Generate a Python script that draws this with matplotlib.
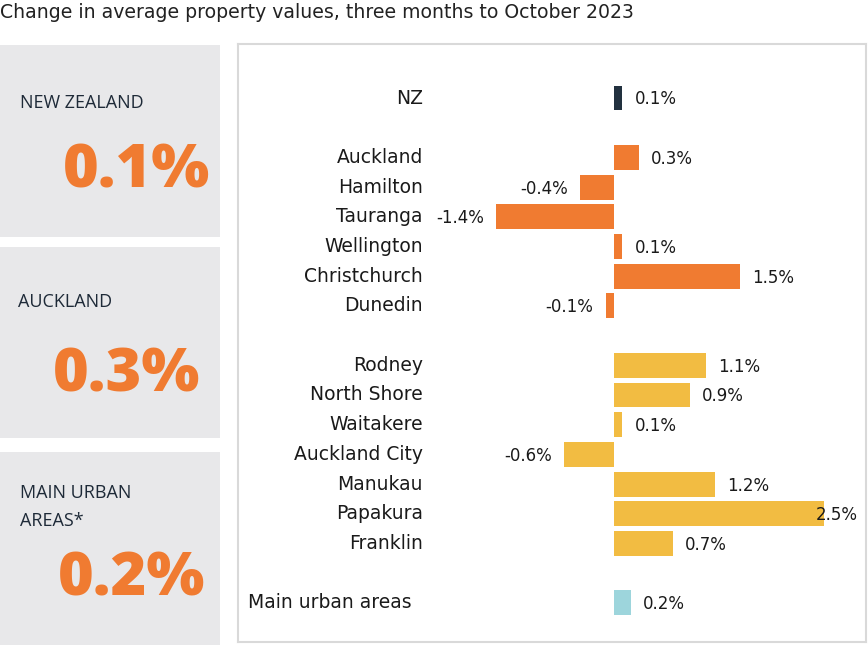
import matplotlib
matplotlib.use("Agg")
import matplotlib.pyplot as plt
from matplotlib.patches import Rectangle

plt.rcParams['font.family'] = ['DejaVu Sans']

# ---- data ----
categories = ["NZ", "", "Auckland", "Hamilton", "Tauranga", "Wellington", "Christchurch", "Dunedin",
              "", "Rodney", "North Shore", "Waitakere", "Auckland City", "Manukau", "Papakura", "Franklin",
              "", "Main urban areas"]
values = [0.1, None, 0.3, -0.4, -1.4, 0.1, 1.5, -0.1,
          None, 1.1, 0.9, 0.1, -0.6, 1.2, 2.5, 0.7,
          None, 0.2]
groups = ["nz", None, "city", "city", "city", "city", "city", "city",
          None, "akl", "akl", "akl", "akl", "akl", "akl", "akl",
          None, "urban"]
value_labels = ["0.1%", "", "0.3%", "-0.4%", "-1.4%", "0.1%", "1.5%", "-0.1%",
                "", "1.1%", "0.9%", "0.1%", "-0.6%", "1.2%", "2.5%", "0.7%",
                "", "0.2%"]
panel_titles = ["NEW ZEALAND", "AUCKLAND", "MAIN URBAN\nAREAS*"]
panel_values = ["0.1%", "0.3%", "0.2%"]
title = "Change in average property values, three months to October 2023"

colors = {"nz": "#22313F", "city": "#F07B31", "akl": "#F2BC42", "urban": "#9DD5DC"}
ORANGE = "#F07B31"
TEXT = "#1a1a1a"
W, H = 868, 645

fig = plt.figure(figsize=(W / 100, H / 100), dpi=100)

def fx(px):
    return px / W

def fy(py):
    return 1 - py / H

# title
fig.text(fx(0), fy(12), title, fontsize=13.6, color="#222222", va="center", ha="left")

# left panels
boxes = [(45, 237), (247, 438), (452, 645)]
title_pos = [(20, 103), (18, 302), (20, 507)]
value_pos = [(210, 171), (200, 376), (205, 579)]
for (top, bot), (tx, ty), (vx, vy), t, v in zip(boxes, title_pos, value_pos, panel_titles, panel_values):
    fig.patches.append(Rectangle((fx(0), fy(bot)), fx(220), (bot - top) / H,
                                 transform=fig.transFigure, facecolor="#E8E8EA",
                                 edgecolor="none", zorder=0))
    fig.text(fx(tx), fy(ty), t, fontsize=13, color="#1E2A38", ha="left", va="center",
             linespacing=1.65, family="Open Sans")
    fig.text(fx(vx), fy(vy), v, fontsize=44, fontweight="heavy", color=ORANGE,
             ha="right", va="center", family="Open Sans")

# chart axes
ax_l, ax_r, ax_t, ax_b = 238, 866, 44, 642
ax = fig.add_axes([fx(ax_l), fy(ax_b), (ax_r - ax_l) / W, (ax_b - ax_t) / H])
zero_px, scale = 614, 84.0
row0, step = 98, 29.7
ax.set_xlim((ax_l - zero_px) / scale, (ax_r - zero_px) / scale)
ax.set_ylim((ax_b - row0) / step, (ax_t - row0) / step)
ax.set_xticks([])
ax.set_yticks([])
for s in ax.spines.values():
    s.set_color("#D9D9D9")
    s.set_linewidth(1.5)

label_x = (423 - zero_px) / scale
right_edge = (858 - zero_px) / scale
off = 12 / scale
for i, (cat, val, g, lab) in enumerate(zip(categories, values, groups, value_labels)):
    if val is None:
        continue
    ax.barh(i, val, height=0.84, color=colors[g], edgecolor="none")
    if cat == "Main urban areas":
        ax.text((248 - zero_px) / scale, i, cat, ha="left", va="center", fontsize=13.5, color=TEXT)
    else:
        ax.text(label_x, i, cat, ha="right", va="center", fontsize=13.5, color=TEXT)
    if val >= 0:
        if val + off + 0.5 > right_edge:
            ax.text(right_edge, i + 0.05, lab, ha="right", va="center", fontsize=12, color=TEXT)
        else:
            ax.text(val + off, i + 0.05, lab, ha="left", va="center", fontsize=12, color=TEXT)
    else:
        ax.text(val - off, i + 0.05, lab, ha="right", va="center", fontsize=12, color=TEXT)

fig.savefig("out.png", dpi=100)
